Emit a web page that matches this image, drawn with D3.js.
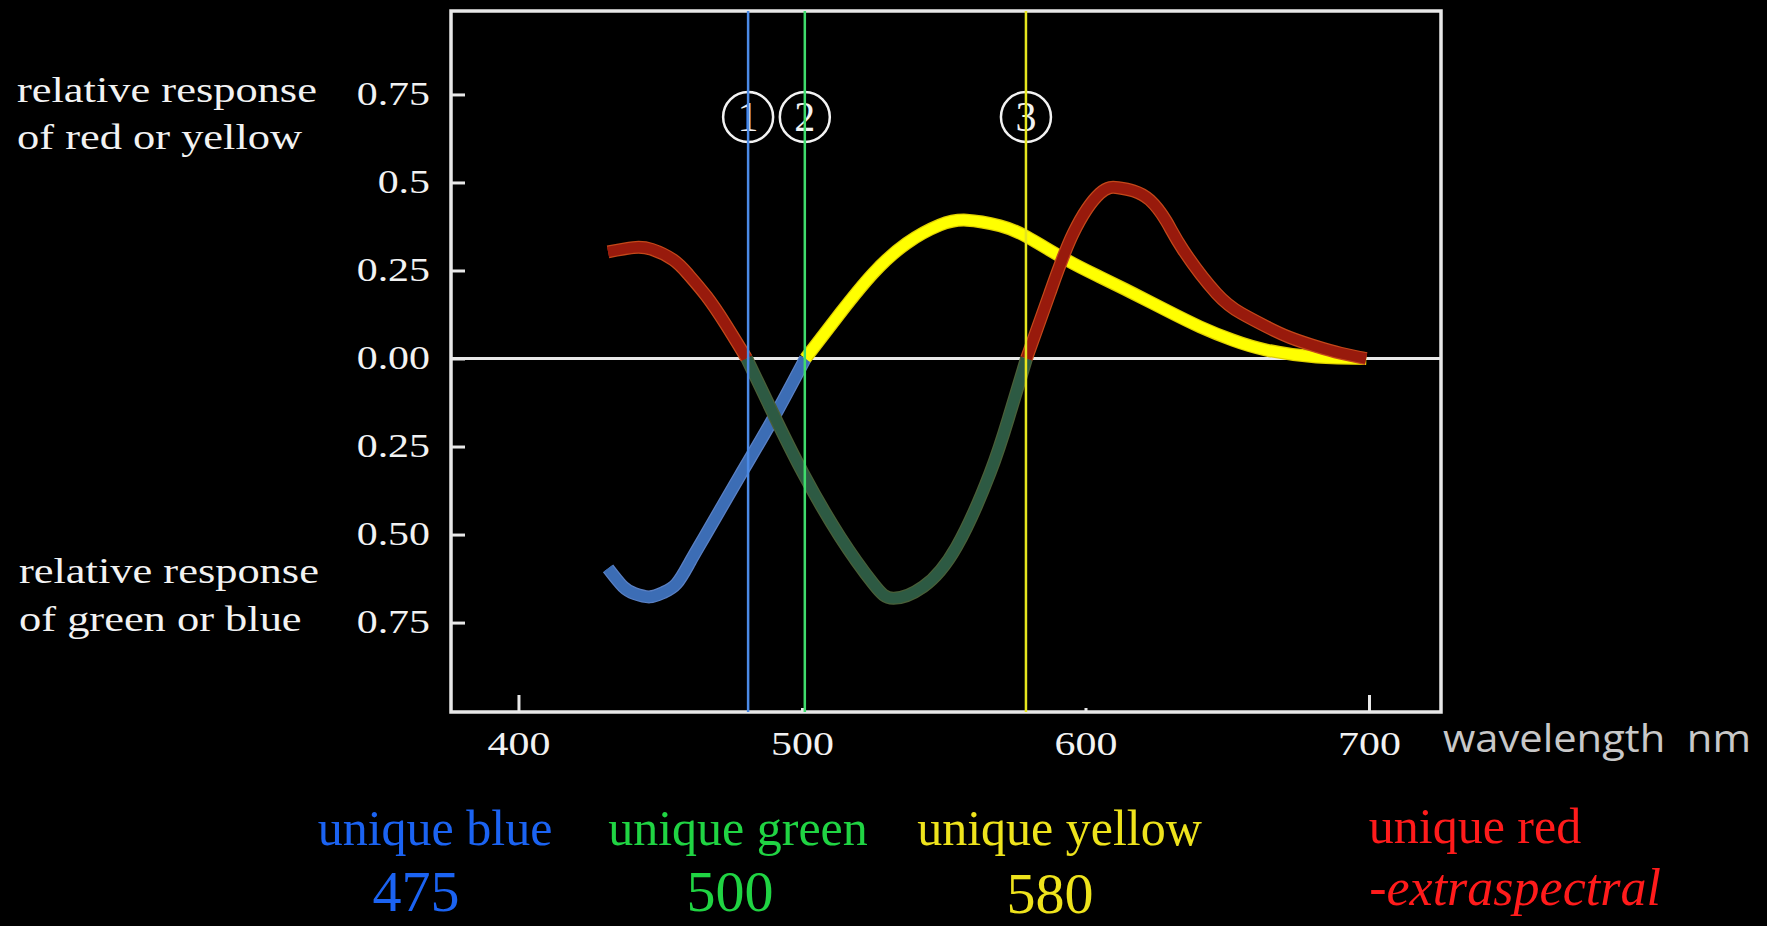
<!DOCTYPE html>
<html>
<head>
<meta charset="utf-8">
<script src="https://cdn.jsdelivr.net/npm/d3@7"></script>
<style>
  html, body { margin: 0; padding: 0; background: #000; overflow: hidden; }
</style>
</head>
<body>
<div id="chart"></div>
<script>
// ---------- data ----------
var wavelengthTicks = [400, 500, 600, 700];
var responseTicks = [0.75, 0.5, 0.25, 0, -0.25, -0.5, -0.75];
var responseTickLabels = ["0.75", "0.5", "0.25", "0.00", "0.25", "0.50", "0.75"];

// red (+) / green (-) opponent response
var rgWavelength = [431.6, 440.5, 447, 454.6, 460, 466.4, 473, 480.5,
                    489.8, 500.4, 513.4, 525.1, 532.2, 542.8, 554.5, 566.3, 573, 579.2,
                    587.4, 595.7, 605.1, 611.5, 617, 622.7, 628.5, 634.5, 646.2, 655, 663.9, 672, 681.5, 690, 699];
var rgResponse   = [0.303, 0.315, 0.31, 0.28, 0.238, 0.176, 0.098, 0,
                    -0.156, -0.326, -0.506, -0.639, -0.681, -0.648, -0.535, -0.326, -0.165, 0,
                    0.185, 0.356, 0.469, 0.485, 0.476, 0.45, 0.39, 0.308, 0.185, 0.128, 0.09, 0.06, 0.034, 0.015, 0];

// yellow (+) / blue (-) opponent response
var ybWavelength = [431.6, 436.9, 441, 446.3, 451, 455.8, 460.5, 466.3, 478.1, 489.8, 501.2,
                    513.4, 525.1, 536.9, 548.6, 558.1, 569.8, 579.2, 593.3, 605, 616.8, 628.5, 640.4, 652, 663.9, 681.5, 699];
var ybResponse   = [-0.596, -0.648, -0.668, -0.677, -0.665, -0.639, -0.578, -0.497, -0.333, -0.171, 0,
                    0.128, 0.242, 0.327, 0.379, 0.393, 0.377, 0.346, 0.28, 0.232, 0.185, 0.137, 0.09, 0.052, 0.024, 0.004, 0];

// unique hue markers
var markerNumbers = ["1", "2", "3"];
var markerWavelength = [481, 501, 579];

var axisTitles = ["relative response", "of red or yellow", "relative response", "of green or blue"];
var uniqueNames = ["unique blue", "unique green", "unique yellow", "unique red"];
var uniqueValues = ["475", "500", "580", "-extraspectral"];

// ---------- styles / layout ----------
var frameColor = "#e8e8e8";
var textColor = "#f2f2f2";
var serif = "'Liberation Serif', 'Times New Roman', serif";
var stretch = 1.27;
var curveColors = { rg: { "1": "#981a0c", "-1": "#2d5a43" }, yb: { "1": "#ffff00", "-1": "#3c6db5" } };
var curveEdges  = { rg: { "1": "#c4481a", "-1": "#4a5f38" }, yb: { "1": "#e0d000", "-1": "#5a80c4" } };
var markerColors = ["#4b8ae6", "#3fdc6c", "#e6e61e"];
var hueColors = ["#1b63f2", "#20d443", "#eee31c", "#ff1b1b"];

var svg = d3.select("#chart")
  .append("svg")
  .attr("width", 1767)
  .attr("height", 926)
  .style("display", "block");

svg.append("rect").attr("width", 1767).attr("height", 926).attr("fill", "#000");

var x = d3.scaleLinear().domain([376.2, 725.4]).range([451, 1441]);
var y = d3.scaleLinear().domain([-1.004, 0.987]).range([712, 11]);

function serifText(parent, str, tx, ty, size, anchor, sx) {
  return parent.append("text")
    .attr("transform", "translate(" + tx + "," + ty + ") scale(" + sx + ",1)")
    .attr("text-anchor", anchor)
    .attr("font-family", serif)
    .attr("font-size", size)
    .attr("fill", textColor)
    .text(str);
}

// zero line (under the curves)
svg.append("line")
  .attr("x1", x(376.2)).attr("x2", x(725.4))
  .attr("y1", y(0)).attr("y2", y(0))
  .attr("stroke", frameColor)
  .attr("stroke-width", 3);

// y axis
var yAxis = svg.append("g")
  .attr("transform", "translate(" + x(376.2) + ",0)")
  .call(d3.axisLeft(y)
    .tickValues(responseTicks)
    .tickSizeInner(-14)
    .tickSizeOuter(0)
    .tickPadding(21)
    .tickFormat(function(d) { return responseTickLabels[responseTicks.indexOf(d)]; }));
yAxis.select(".domain").remove();
yAxis.selectAll(".tick line").attr("stroke", frameColor).attr("stroke-width", 3);
yAxis.selectAll(".tick text")
  .attr("x", -21 / stretch)
  .attr("dy", "0.3em")
  .attr("transform", "scale(" + stretch + ",1)")
  .attr("font-family", serif)
  .attr("font-size", 33)
  .attr("fill", textColor);

// x axis
var xAxis = svg.append("g")
  .attr("transform", "translate(0," + y(-1.004) + ")")
  .call(d3.axisBottom(x)
    .tickValues(wavelengthTicks)
    .tickSizeInner(-17)
    .tickSizeOuter(0)
    .tickPadding(0));
xAxis.select(".domain").remove();
xAxis.selectAll(".tick line")
  .attr("stroke", frameColor)
  .attr("stroke-width", 3)
  .attr("y2", function(d) { return (d === 400 || d === 700) ? -17 : -4; });
xAxis.selectAll(".tick text")
  .attr("y", 43)
  .attr("dy", null)
  .attr("transform", "scale(" + stretch + ",1)")
  .attr("font-family", serif)
  .attr("font-size", 33)
  .attr("fill", textColor);

// split a signed series into runs of the same sign (zero points shared)
function splitBySign(ws, vs) {
  var segs = [], cur = null, zero = null;
  ws.forEach(function(w, i) {
    var p = { w: w, v: vs[i] };
    var s = Math.sign(p.v);
    if (s === 0) {
      if (cur) cur.pts.push(p);
      cur = null;
      zero = p;
      return;
    }
    if (!cur || cur.sign !== s) {
      cur = { sign: s, pts: zero ? [zero] : [] };
      segs.push(cur);
      zero = null;
    }
    cur.pts.push(p);
  });
  return segs;
}

var line = d3.line()
  .x(function(d) { return x(d.w); })
  .y(function(d) { return y(d.v); })
  .curve(d3.curveNatural);

function drawCurve(key, ws, vs) {
  var segs = splitBySign(ws, vs);
  var g = svg.append("g").attr("fill", "none");
  g.selectAll("path.edge")
    .data(segs)
    .enter()
    .append("path")
    .attr("class", "edge")
    .attr("d", function(d) { return line(d.pts); })
    .attr("stroke", function(d) { return curveEdges[key][d.sign]; })
    .attr("stroke-width", 13);
  g.selectAll("path.core")
    .data(segs)
    .enter()
    .append("path")
    .attr("class", "core")
    .attr("d", function(d) { return line(d.pts); })
    .attr("stroke", function(d) { return curveColors[key][d.sign]; })
    .attr("stroke-width", 10.5);
}

drawCurve("yb", ybWavelength, ybResponse);
drawCurve("rg", rgWavelength, rgResponse);

// frame
svg.append("rect")
  .attr("x", x(376.2))
  .attr("y", y(0.987))
  .attr("width", x(725.4) - x(376.2))
  .attr("height", y(-1.004) - y(0.987))
  .attr("fill", "none")
  .attr("stroke", frameColor)
  .attr("stroke-width", 3.5);

// circled markers
var markers = svg.append("g");
markers.selectAll("circle")
  .data(markerWavelength)
  .enter()
  .append("circle")
  .attr("cx", function(d) { return x(d); })
  .attr("cy", y(0.686))
  .attr("r", 25)
  .attr("fill", "none")
  .attr("stroke", textColor)
  .attr("stroke-width", 2.5);
markers.selectAll("text")
  .data(markerWavelength)
  .enter()
  .append("text")
  .attr("x", function(d) { return x(d); })
  .attr("y", y(0.686) + 14)
  .attr("text-anchor", "middle")
  .attr("font-family", serif)
  .attr("font-size", 42)
  .attr("fill", textColor)
  .text(function(d, i) { return markerNumbers[i]; });

// unique hue vertical lines
svg.append("g")
  .selectAll("line")
  .data(markerWavelength)
  .enter()
  .append("line")
  .attr("x1", function(d) { return x(d); })
  .attr("x2", function(d) { return x(d); })
  .attr("y1", y(0.987))
  .attr("y2", y(-1.004))
  .attr("stroke", function(d, i) { return markerColors[i]; })
  .attr("stroke-width", 2.5);

// left axis titles
var titlePos = [[17, 101.7], [17, 149], [19, 583], [19, 631]];
axisTitles.forEach(function(t, i) {
  serifText(svg, t, titlePos[i][0], titlePos[i][1], 35, "start", stretch);
});

// x axis title
svg.append("text")
  .attr("x", 1443)
  .attr("y", 751.7)
  .attr("font-family", "'Open Sans', sans-serif")
  .attr("font-size", 38)
  .attr("fill", "#c8c8c8")
  .attr("textLength", 308)
  .attr("lengthAdjust", "spacingAndGlyphs")
  .style("white-space", "pre")
  .text("wavelength  nm");

// unique hue labels below the chart
var nameCenter = [435, 738, 1059.5, 1475];
var nameBase = [845, 845, 845, 843];
var valueCenter = [416, 730, 1050, 1515];
var valueBase = [911, 911, 913, 905];

var labels = svg.append("g").attr("text-anchor", "middle").attr("font-family", serif);
labels.selectAll("text.name")
  .data(uniqueNames)
  .enter()
  .append("text")
  .attr("class", "name")
  .attr("x", function(d, i) { return nameCenter[i]; })
  .attr("y", function(d, i) { return nameBase[i]; })
  .attr("font-size", 50)
  .attr("fill", function(d, i) { return hueColors[i]; })
  .text(function(d) { return d; });
labels.selectAll("text.value")
  .data(uniqueValues)
  .enter()
  .append("text")
  .attr("class", "value")
  .attr("x", function(d, i) { return valueCenter[i]; })
  .attr("y", function(d, i) { return valueBase[i]; })
  .attr("font-size", function(d, i) { return i === 3 ? 52 : 58; })
  .attr("font-style", function(d, i) { return i === 3 ? "italic" : "normal"; })
  .attr("fill", function(d, i) { return hueColors[i]; })
  .text(function(d) { return d; });
</script>
</body>
</html>
